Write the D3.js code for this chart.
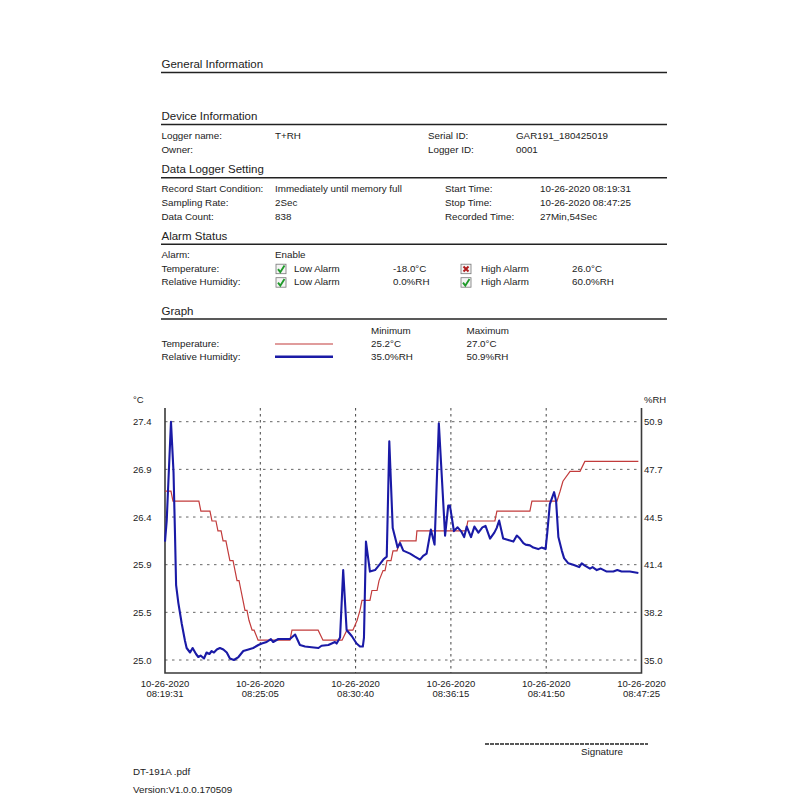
<!DOCTYPE html>
<html>
<head>
<meta charset="utf-8">
<script src="https://cdn.jsdelivr.net/npm/d3@7"></script>
<style>
  body { margin: 0; background: #fff; }
  svg { font-family: "Liberation Sans", Arial, sans-serif; }
</style>
</head>
<body>
<svg id="page" width="800" height="800"></svg>
<script>
// ---- data ----
const startTime = new Date(2020, 9, 26, 8, 19, 31);
const stopTime = new Date(2020, 9, 26, 8, 47, 25);

// temperature (°C), seconds since start
const tempSeconds = [0, 21, 28, 119, 126, 158, 165, 179, 186, 197, 204, 214, 221, 228, 239, 246, 253, 260, 267, 274,
  281, 288, 295, 306, 313, 327, 439, 446, 538, 555, 622, 639, 660, 675, 685, 692, 720, 727, 745, 752,
  766, 773, 780, 794, 801, 815, 826, 882, 885, 1057, 1064, 1159, 1166, 1282, 1289, 1377, 1388, 1398, 1423, 1458,
  1475, 1663];
const tempValues = [26.7, 26.7, 26.6, 26.6, 26.5, 26.5, 26.4, 26.4, 26.3, 26.3, 26.2, 26.2, 26.1, 26.0, 26.0, 25.9, 25.8, 25.8, 25.7, 25.6,
  25.5, 25.5, 25.4, 25.3, 25.3, 25.2, 25.2, 25.3, 25.3, 25.2, 25.2, 25.3, 25.3, 25.4, 25.5, 25.6, 25.6, 25.7, 25.7, 25.8,
  25.9, 25.9, 26.0, 26.0, 26.1, 26.1, 26.2, 26.2, 26.3, 26.3, 26.4, 26.4, 26.5, 26.5, 26.6, 26.6, 26.7, 26.8, 26.9, 26.9,
  27.0, 27.0];

// relative humidity (%RH), seconds since start
const rhSeconds = [0, 6, 21, 30, 35, 39, 47, 59, 70, 76, 88, 97, 109, 117, 125, 137, 146, 156, 164, 172,
  182, 193, 205, 217, 228, 242, 258, 275, 293, 310, 328, 340, 357, 372, 380, 398, 415, 439, 457, 474,
  492, 515, 539, 550, 574, 597, 603, 615, 626, 638, 656, 673, 685, 695, 699, 706, 720, 738, 755, 767,
  779, 788, 800, 812, 817, 826, 837, 861, 878, 896, 907, 919, 934, 947, 962, 984, 995, 1001, 1015, 1028,
  1040, 1051, 1060, 1075, 1087, 1101, 1115, 1126, 1142, 1157, 1165, 1174, 1188, 1206, 1224, 1236, 1247, 1259, 1267, 1282,
  1294, 1311, 1323, 1337, 1343, 1352, 1367, 1374, 1382, 1394, 1402, 1417, 1434, 1455, 1464, 1475, 1493, 1502, 1517, 1531,
  1552, 1575, 1589, 1604, 1633, 1663];
const rhValues = [42.9, 44.3, 50.9, 47.5, 43.5, 40.0, 38.8, 37.4, 36.3, 35.8, 35.5, 35.8, 35.4, 35.2, 35.3, 35.1, 35.5, 35.4, 35.6, 35.5,
  35.7, 35.8, 35.7, 35.5, 35.1, 35.0, 35.2, 35.6, 35.7, 35.8, 36.0, 36.1, 36.2, 36.4, 36.2, 36.4, 36.4, 36.4, 36.7, 36.0,
  35.9, 35.85, 35.8, 35.95, 36.0, 36.2, 36.1, 36.5, 41.0, 37.0, 36.6, 36.1, 35.9, 35.9, 36.5, 42.9, 40.9, 41.0, 41.4, 41.7,
  41.9, 49.6, 43.8, 42.9, 42.5, 42.8, 42.3, 42.1, 41.9, 41.7, 41.95, 42.1, 43.7, 42.7, 50.8, 43.3, 45.3, 45.3, 43.6, 43.85,
  43.6, 43.2, 43.9, 43.2, 43.9, 43.5, 43.85, 43.95, 43.1, 43.5, 43.8, 44.3, 43.1, 43.0, 42.9, 43.3, 43.1, 42.8, 42.7, 42.65,
  42.5, 42.4, 42.5, 42.4, 43.5, 45.4, 46.2, 45.6, 43.2, 42.3, 41.8, 41.45, 41.35, 41.2, 41.45, 41.3, 41.1, 41.2, 41.0, 41.1,
  40.9, 40.9, 41.0, 40.9, 40.9, 40.8];

const tempTicks = [25.0, 25.48, 25.96, 26.44, 26.92, 27.4];
const tempTickLabels = ["25.0", "25.5", "25.9", "26.4", "26.9", "27.4"];
const rhTicks = [35.0, 38.18, 41.36, 44.54, 47.72, 50.9];
const rhTickLabels = ["35.0", "38.2", "41.4", "44.5", "47.7", "50.9"];

// ---- report text ----
const deviceRows = [
  ["Logger name:", "T+RH", "Serial ID:", "GAR191_180425019"],
  ["Owner:", "", "Logger ID:", "0001"]
];
const settingRows = [
  ["Record Start Condition:", "Immediately until memory full", "Start Time:", "10-26-2020 08:19:31"],
  ["Sampling Rate:", "2Sec", "Stop Time:", "10-26-2020 08:47:25"],
  ["Data Count:", "838", "Recorded Time:", "27Min,54Sec"]
];
const alarmRows = [
  { label: "Temperature:", lowOk: true, low: "-18.0°C", highOk: false, high: "26.0°C" },
  { label: "Relative Humidity:", lowOk: true, low: "0.0%RH", highOk: true, high: "60.0%RH" }
];
const legendRows = [
  { label: "Temperature:", min: "25.2°C", max: "27.0°C", color: "#c23b3b", width: 1.2 },
  { label: "Relative Humidity:", min: "35.0%RH", max: "50.9%RH", color: "#1a1aa6", width: 2.6 }
];

const svg = d3.select('#page');
const ink = '#222';
const bodySize = 9.8;
const tickSize = 9.5;

function text(x, y, s, size, anchor) {
  return svg.append('text')
    .attr('x', x).attr('y', y)
    .attr('fill', ink)
    .attr('font-size', size || bodySize)
    .attr('text-anchor', anchor || 'start')
    .text(s);
}

// section heading with rule underneath
function heading(y, s) {
  text(161.5, y, s, 11.5);
  svg.append('line')
    .attr('x1', 161).attr('x2', 667)
    .attr('y1', y + 4.5).attr('y2', y + 4.5)
    .attr('stroke', ink).attr('stroke-width', 1.5);
}

function checkbox(x, y, ok) {
  const g = svg.append('g').attr('transform', `translate(${x},${y})`);
  g.append('rect').attr('width', 10).attr('height', 9.5)
    .attr('fill', '#f4f4f4').attr('stroke', '#777').attr('stroke-width', 0.8);
  if (ok) {
    g.append('path').attr('d', 'M2,5 L4.3,8 L8.5,1.2')
      .attr('fill', 'none').attr('stroke', '#1f9a2a').attr('stroke-width', 1.9);
  } else {
    g.append('path').attr('d', 'M2.5,2.3 L7.5,7.3 M7.5,2.3 L2.5,7.3')
      .attr('fill', 'none').attr('stroke', '#b01c1c').attr('stroke-width', 2);
  }
}

heading(68, 'General Information');

heading(120, 'Device Information');
deviceRows.forEach((r, i) => {
  const y = 139 + i * 13.5;
  [161.5, 275, 428, 516].forEach((x, j) => text(x, y, r[j]));
});

heading(173.3, 'Data Logger Setting');
settingRows.forEach((r, i) => {
  const y = 191.7 + i * 14;
  [161.5, 275, 445, 540].forEach((x, j) => text(x, y, r[j]));
});

heading(239.8, 'Alarm Status');
text(161.5, 257.7, 'Alarm:');
text(275, 257.7, 'Enable');
alarmRows.forEach((r, i) => {
  const y = 271.7 + i * 13.5;
  text(161.5, y, r.label);
  checkbox(276, y - 7.5, r.lowOk);
  text(294, y, 'Low Alarm');
  text(393, y, r.low);
  checkbox(461, y - 7.5, r.highOk);
  text(481, y, 'High Alarm');
  text(572, y, r.high);
});

heading(314.5, 'Graph');
text(371, 334, 'Minimum');
text(466.5, 334, 'Maximum');
legendRows.forEach((r, i) => {
  const y = 347.3 + i * 12.8;
  text(161.5, y, r.label);
  svg.append('line')
    .attr('x1', 275).attr('x2', 333)
    .attr('y1', y - 3.3).attr('y2', y - 3.3)
    .attr('stroke', r.color).attr('stroke-width', r.width);
  text(371, y, r.min);
  text(466.5, y, r.max);
});

// ---- chart ----
const plot = { left: 165, right: 641.5, top: 408, bottom: 673 };

const x = d3.scaleTime().domain([startTime, stopTime]).range([plot.left, plot.right]);
const yT = d3.scaleLinear().domain([25.0, 27.4]).range([660, 421.7]);
const yH = d3.scaleLinear().domain([35.0, 50.9]).range([660, 421.7]);

const xTicks = d3.range(6).map(i => new Date(+startTime + i * (stopTime - startTime) / 5));
const fmtDate = d3.timeFormat('%m-%d-%Y');
const fmtTime = d3.timeFormat('%H:%M:%S');

const grid = svg.append('g')
  .attr('stroke', '#666').attr('stroke-width', 1).attr('stroke-dasharray', '2.5,4.5');

grid.selectAll('line.h')
  .data(tempTicks)
  .enter().append('line')
  .attr('class', 'h')
  .attr('x1', plot.left).attr('x2', plot.right)
  .attr('y1', d => yT(d)).attr('y2', d => yT(d));

grid.selectAll('line.v')
  .data(xTicks.slice(1, -1))
  .enter().append('line')
  .attr('class', 'v')
  .attr('x1', d => x(d)).attr('x2', d => x(d))
  .attr('y1', plot.top).attr('y2', plot.bottom)
  .attr('stroke', '#444').attr('stroke-dasharray', '2.5,3.5');

// axes frame (left, bottom, right)
svg.append('path')
  .attr('d', `M${plot.left},${plot.top}V${plot.bottom}H${plot.right}V${plot.top}`)
  .attr('fill', 'none').attr('stroke', '#3a3a3a').attr('stroke-width', 1.6);

// left axis labels
const leftAxis = svg.append('g')
  .attr('transform', `translate(${plot.left - 13.5},0)`)
  .call(d3.axisLeft(yT).tickValues(tempTicks).tickSize(0).tickPadding(0)
    .tickFormat((d, i) => tempTickLabels[i]));
leftAxis.select('.domain').remove();
leftAxis.selectAll('text').attr('font-size', tickSize).attr('fill', ink)
  .attr('font-family', '"Liberation Sans", Arial, sans-serif');

const rightAxis = svg.append('g')
  .attr('transform', `translate(${plot.right + 2.5},0)`)
  .call(d3.axisRight(yH).tickValues(rhTicks).tickSize(0).tickPadding(0)
    .tickFormat((d, i) => rhTickLabels[i]));
rightAxis.select('.domain').remove();
rightAxis.selectAll('text').attr('font-size', tickSize).attr('fill', ink)
  .attr('font-family', '"Liberation Sans", Arial, sans-serif');

text(133, 403, '°C', tickSize);
text(644, 403, '%RH', tickSize);

// bottom labels, two lines each
const xl = svg.append('g').selectAll('g')
  .data(xTicks)
  .enter().append('g')
  .attr('transform', d => `translate(${x(d)},0)`);
xl.append('text').attr('y', 686.5).attr('text-anchor', 'middle')
  .attr('font-size', tickSize).attr('fill', ink).text(d => fmtDate(d));
xl.append('text').attr('y', 696.5).attr('text-anchor', 'middle')
  .attr('font-size', tickSize).attr('fill', ink).text(d => fmtTime(d));

const toPoints = (secs, vals) => secs.map((s, i) => ({ t: new Date(+startTime + s * 1000), v: vals[i] }));
const tempData = toPoints(tempSeconds, tempValues);
const rhData = toPoints(rhSeconds, rhValues);

svg.append('path')
  .datum(tempData)
  .attr('fill', 'none')
  .attr('stroke', legendRows[0].color)
  .attr('stroke-width', 1.2)
  .attr('d', d3.line().x(d => x(d.t)).y(d => yT(d.v)));

svg.append('path')
  .datum(rhData)
  .attr('fill', 'none')
  .attr('stroke', legendRows[1].color)
  .attr('stroke-width', 2.1)
  .attr('stroke-linejoin', 'round')
  .attr('d', d3.line().x(d => x(d.t)).y(d => yH(d.v)));

// ---- footer ----
svg.append('line')
  .attr('x1', 485).attr('x2', 648).attr('y1', 744).attr('y2', 744)
  .attr('stroke', ink).attr('stroke-width', 1.4).attr('stroke-dasharray', '4,1');
text(581, 755, 'Signature');
text(133, 775, 'DT-191A .pdf');
text(133, 793, 'Version:V1.0.0.170509');
</script>
</body>
</html>
